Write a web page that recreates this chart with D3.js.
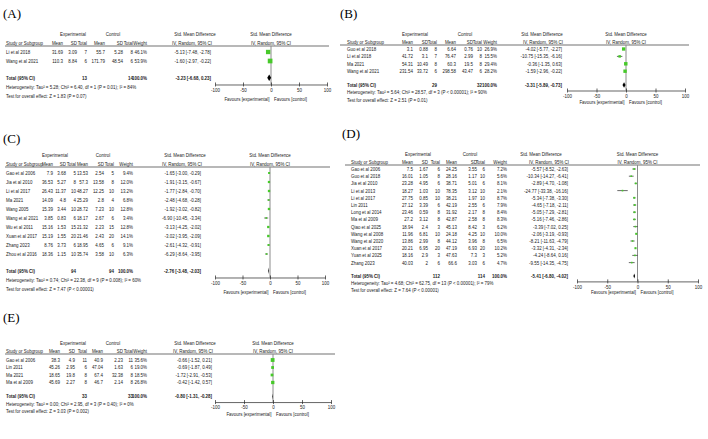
<!DOCTYPE html>
<html><head><meta charset="utf-8">
<script src="https://cdn.jsdelivr.net/npm/d3@7"></script>
<style>
body{margin:0;background:#fff}
svg{display:block}
text{font-family:"Liberation Sans",Arial,sans-serif;font-size:5.3px;fill:#1a1a1a}
text.lab{font-family:"Liberation Serif","Times New Roman",serif;font-size:13px;fill:#000}
text.b{font-weight:bold}
</style></head><body>
<svg id="c" width="708" height="439"></svg>
<script>
// ---------- DATA ----------
const axisTicks = [-100, -50, 0, 50, 100];

// Panel A
const A_study = ["Li et al 2018", "Wang et al 2021"];
const A_expMean = [31.69, 110.3];
const A_expSD = [3.09, 8.84];
const A_expN = [7, 6];
const A_ctlMean = [55.7, 171.79];
const A_ctlSD = [5.28, 48.54];
const A_ctlN = [8, 6];
const A_weight = [46.1, 53.9];
const A_smd = [-5.13, -1.60];
const A_lo = [-7.48, -2.97];
const A_hi = [-2.78, -0.22];
const A_totalN = [13, 14];
const A_totalEffect = [-3.23, -6.68, 0.23];
const A_het = "Heterogeneity: Tau² = 5.28; Chi² = 6.40, df = 1 (P = 0.01); I² = 84%";
const A_test = "Test for overall effect: Z = 1.83 (P = 0.07)";

// Panel B
const B_study = ["Guo et al 2018", "Li et al 2018", "Ma 2021", "Wang et al 2021"];
const B_expMean = [3.1, 41.72, 54.31, 231.54];
const B_expSD = [0.88, 3.1, 10.49, 33.72];
const B_expN = [8, 7, 8, 6];
const B_ctlMean = [6.64, 76.47, 60.3, 298.58];
const B_ctlSD = [0.76, 2.99, 19.5, 43.47];
const B_ctlN = [10, 8, 8, 6];
const B_weight = [26.9, 15.5, 29.4, 28.2];
const B_smd = [-4.02, -10.75, -0.36, -1.59];
const B_lo = [-5.77, -15.35, -1.35, -2.96];
const B_hi = [-2.27, -6.16, 0.63, -0.22];
const B_totalN = [29, 32];
const B_totalEffect = [-3.31, -5.89, -0.73];
const B_het = "Heterogeneity: Tau² = 5.64; Chi² = 28.57, df = 3 (P < 0.00001); I² = 90%";
const B_test = "Test for overall effect: Z = 2.51 (P = 0.01)";

// Panel C
const C_study = ["Gao et al 2006", "Jia et al 2010", "Li et al 2017", "Ma 2021", "Wang 2005", "Wang et al 2021", "Wu et al 2011", "Xuan et al 2017", "Zhang 2023", "Zhou et al 2016"];
const C_expMean = [7.9, 36.53, 26.43, 14.09, 15.39, 3.85, 15.16, 15.19, 8.76, 18.36];
const C_expSD = [3.68, 5.27, 11.37, 4.8, 3.44, 0.83, 1.53, 1.55, 3.73, 1.15];
const C_expN = [5, 8, 10, 4, 10, 6, 15, 20, 6, 10];
const C_ctlMean = [13.53, 57.3, 48.27, 25.29, 28.72, 18.17, 21.32, 21.46, 18.95, 35.74];
const C_ctlSD = [2.54, 13.58, 12.25, 2.8, 7.23, 2.67, 2.23, 2.43, 4.65, 3.58];
const C_ctlN = [5, 8, 10, 4, 10, 6, 15, 20, 6, 10];
const C_weight = [9.4, 12.0, 13.2, 6.8, 12.8, 3.4, 12.8, 14.1, 9.1, 6.3];
const C_smd = [-1.65, -1.91, -1.77, -2.48, -1.92, -6.90, -3.13, -3.02, -2.61, -6.29];
const C_lo = [-3.00, -3.15, -2.84, -4.68, -3.02, -10.45, -4.25, -3.95, -4.32, -8.64];
const C_hi = [-0.29, -0.67, -0.70, -0.28, -0.82, -3.34, -2.02, -2.09, -0.91, -3.95];
const C_totalN = [94, 94];
const C_totalEffect = [-2.76, -3.48, -2.03];
const C_het = "Heterogeneity: Tau² = 0.74; Chi² = 22.38, df = 9 (P = 0.008); I² = 60%";
const C_test = "Test for overall effect: Z = 7.47 (P < 0.00001)";

// Panel D
const D_study = ["Gao et al 2006", "Guo et al 2018", "Jia et al 2010", "Li et al 2013", "Li et al 2017", "Lin 2011", "Long et al 2014", "Ma et al 2009", "Qiao et al 2025", "Wang et al 2008", "Wang et al 2020", "Xuan et al 2017", "Yuan et al 2025", "Zhang 2023"];
const D_expMean = [7.5, 16.01, 23.28, 18.27, 27.75, 27.12, 23.46, 27.2, 18.94, 11.96, 13.86, 20.21, 18.16, 40.03];
const D_expSD = [1.67, 1.05, 4.95, 1.03, 0.85, 3.39, 0.59, 3.12, 2.4, 6.81, 2.99, 6.95, 2.9, 2];
const D_expN = [6, 8, 6, 10, 10, 6, 8, 8, 3, 10, 8, 20, 3, 6];
const D_ctlMean = [24.25, 28.16, 38.71, 78.35, 38.21, 42.19, 31.92, 42.87, 45.13, 24.18, 44.12, 47.19, 47.63, 66.6];
const D_ctlSD = [3.55, 1.17, 5.01, 3.12, 1.97, 2.55, 2.17, 2.58, 8.42, 4.25, 3.96, 6.93, 7.3, 3.03];
const D_ctlN = [6, 10, 6, 10, 10, 6, 8, 8, 3, 10, 8, 20, 3, 6];
const D_weight = [7.2, 5.6, 8.1, 2.1, 8.7, 7.9, 8.4, 8.3, 6.2, 10.0, 6.5, 10.2, 5.2, 4.7];
const D_smd = [-5.57, -10.34, -2.89, -24.77, -5.34, -4.65, -5.05, -5.16, -3.39, -2.06, -8.21, -3.32, -4.24, -9.55];
const D_lo = [-8.52, -14.27, -4.70, -33.38, -7.38, -7.18, -7.29, -7.46, -7.02, -3.19, -11.63, -4.31, -8.64, -14.35];
const D_hi = [-2.63, -6.41, -1.08, -16.16, -3.30, -2.11, -2.81, -2.86, 0.25, -0.93, -4.79, -2.34, 0.16, -4.75];
const D_totalN = [112, 114];
const D_totalEffect = [-5.41, -6.80, -4.02];
const D_het = "Heterogeneity: Tau² = 4.68; Chi² = 62.75, df = 13 (P < 0.00001); I² = 79%";
const D_test = "Test for overall effect: Z = 7.64 (P < 0.00001)";

// Panel E
const E_study = ["Gao et al 2006", "Lin 2011", "Ma 2021", "Ma et al 2009"];
const E_expMean = [38.3, 45.26, 18.65, 45.69];
const E_expSD = [4.9, 2.95, 19.8, 2.27];
const E_expN = [11, 6, 8, 8];
const E_ctlMean = [40.9, 47.04, 67.4, 46.7];
const E_ctlSD = [2.23, 1.63, 32.38, 2.14];
const E_ctlN = [11, 6, 8, 8];
const E_weight = [35.6, 19.0, 18.5, 26.8];
const E_smd = [-0.66, -0.69, -1.72, -0.42];
const E_lo = [-1.52, -1.87, -2.91, -1.42];
const E_hi = [0.21, 0.49, -0.53, 0.57];
const E_totalN = [33, 33];
const E_totalEffect = [-0.80, -1.31, -0.28];
const E_het = "Heterogeneity: Tau² = 0.00; Chi² = 2.95, df = 3 (P = 0.40); I² = 0%";
const E_test = "Test for overall effect: Z = 3.03 (P = 0.002)";

// ---------- LAYOUT ----------
const SX = 0.84; // horizontal condensing of the small table font
const LAY = {
  A: {label:[3,18], lx:[5,329], line:46, first:52, step:9, studyX:6,
      cols:[63,77,87,105,123,133,147,211], grp:[73,113,195], plot:[215,327]},
  B: {label:[340,18], lx:[340,689], line:45, first:49, step:7.4, studyX:347,
      cols:[413,428,437,456,473,482,497,562], grp:[415,465,542], plot:[567,685]},
  C: {label:[3,143], lx:[5,330], line:167, first:173, step:9, studyX:6,
      cols:[53,66,76,88,104,114,133,201], grp:[55,103,185], plot:[215,325]},
  D: {label:[342,138], lx:[345,700], line:165, first:169, step:7.2, studyX:351,
      cols:[413,428,440,457,477,485,507,568], grp:[418,470,541], plot:[577,698]},
  E: {label:[3,322], lx:[5,335], line:354, first:360, step:7.5, studyX:6,
      cols:[60,75,87,103,123,133,147,212], grp:[73,113,195], plot:[215,331]}
};

const svg = d3.select("#c");
const sizeScale = d3.scaleSqrt().domain([0, 100]).range([0, 6.4]);
const f2 = v => v.toFixed(2);
const ciTxt = (s, l, h) => `${f2(s)} [${f2(l)}, ${f2(h)}]`;

function drawPanel(name, L, d) {
  const g = svg.append("g");
  const n = d.study.length;
  const x = d3.scaleLinear().domain([-100, 100]).range(L.plot);
  const x0 = x(0);
  const rowY = i => L.first + i * L.step;
  const totY = rowY(n - 1) + 1.86 * L.step;
  const hetY = totY + L.step, testY = totY + 2 * L.step;
  const axY = totY + 0.75 * L.step;
  const bl = 1.9;
  const h1 = L.line - 1.5 - L.step, h2 = L.line - 1.5;
  const T = (xx, yy, s, anchor, cls) => g.append("text")
      .attr("transform", `translate(${xx},${yy}) scale(${SX},1)`)
      .attr("text-anchor", anchor || "start").attr("class", cls || null).text(s);

  g.append("text").attr("class", "lab").attr("x", L.label[0]).attr("y", L.label[1]).text(name);

  // group headers
  T(L.grp[0], h1, "Experimental", "middle");
  T(L.grp[1], h1, "Control", "middle");
  T(L.grp[2], h1, "Std. Mean Difference", "middle");
  T(x0, h1, "Std. Mean Difference", "middle");
  // column headers
  T(L.studyX, h2, "Study or Subgroup");
  const heads = ["Mean", "SD", "Total", "Mean", "SD", "Total", "Weight", "IV, Random, 95% CI"];
  heads.forEach((h, k) => T(L.cols[k] + (k === 7 ? 1 : 0), h2, h, "end"));
  T(x0, h2, "IV, Random, 95% CI", "middle");
  g.append("line").attr("x1", L.lx[0]).attr("x2", L.lx[1]).attr("y1", L.line).attr("y2", L.line)
    .attr("stroke", "#333").attr("stroke-width", 0.7);

  // study rows
  d.study.forEach((s, i) => {
    const y = rowY(i) + bl;
    T(L.studyX, y, s);
    const vals = [String(d.expMean[i]), String(d.expSD[i]), String(d.expN[i]),
                  String(d.ctlMean[i]), String(d.ctlSD[i]), String(d.ctlN[i]),
                  d.weight[i].toFixed(1) + "%", ciTxt(d.smd[i], d.lo[i], d.hi[i])];
    vals.forEach((v, k) => T(L.cols[k], y, v, "end"));
  });
  // total row
  const ty = totY + bl;
  T(L.studyX, ty, "Total (95% CI)", "start", "b");
  T(L.cols[2], ty, String(d.totalN[0]), "end", "b");
  T(L.cols[5], ty, String(d.totalN[1]), "end", "b");
  T(L.cols[6], ty, "100.0%", "end", "b");
  T(L.cols[7], ty, ciTxt(d.totalEffect[0], d.totalEffect[1], d.totalEffect[2]), "end", "b");
  T(L.studyX, hetY + bl, d.het);
  T(L.studyX, testY + bl, d.test);

  // plot
  g.append("line").attr("x1", x0).attr("x2", x0).attr("y1", L.line).attr("y2", axY)
    .attr("stroke", "#8c8c8c").attr("stroke-width", 1);
  d.study.forEach((s, i) => {
    const y = rowY(i);
    g.append("line").attr("x1", x(d.lo[i])).attr("x2", x(d.hi[i])).attr("y1", y).attr("y2", y)
      .attr("stroke", "#2a2a2a").attr("stroke-width", 0.7);
    const sz = Math.max(1.6, sizeScale(d.weight[i]));
    g.append("rect").attr("x", x(d.smd[i]) - sz / 2).attr("y", y - sz / 2)
      .attr("width", sz).attr("height", sz).attr("fill", "#47c92a");
  });
  const dh = 0.36 * L.step;
  const te = d.totalEffect;
  g.append("path").attr("d", `M${x(te[1])},${totY}L${x(te[0])},${totY - dh}L${x(te[2])},${totY}L${x(te[0])},${totY + dh}Z`)
    .attr("fill", "#000");

  // axis
  const ax = d3.axisBottom(x).tickValues(axisTicks).tickFormat(v => String(v))
    .tickSizeInner(2).tickSizeOuter(0).tickPadding(1.5);
  const ag = g.append("g").attr("transform", `translate(0,${axY})`).call(ax);
  ag.attr("font-size", null).attr("font-family", null);
  ag.select(".domain").attr("stroke", "#222").attr("stroke-width", 0.7);
  ag.selectAll(".tick line").attr("y1", -2).attr("y2", 2).attr("stroke", "#222").attr("stroke-width", 0.7);
  ag.selectAll(".tick text").attr("fill", "#1a1a1a").attr("transform", `scale(${SX},1)`);
  T(x0 - 1.5, axY + 1.8 * L.step, "Favours [experimental]", "end");
  T(x0 + 3, axY + 1.8 * L.step, "Favours [control]", "start");
}

const P = (pre) => ({
  study: eval(pre + "_study"), expMean: eval(pre + "_expMean"), expSD: eval(pre + "_expSD"),
  expN: eval(pre + "_expN"), ctlMean: eval(pre + "_ctlMean"), ctlSD: eval(pre + "_ctlSD"),
  ctlN: eval(pre + "_ctlN"), weight: eval(pre + "_weight"), smd: eval(pre + "_smd"),
  lo: eval(pre + "_lo"), hi: eval(pre + "_hi"), totalN: eval(pre + "_totalN"),
  totalEffect: eval(pre + "_totalEffect"), het: eval(pre + "_het"), test: eval(pre + "_test")
});

drawPanel("(A)", LAY.A, P("A"));
drawPanel("(B)", LAY.B, P("B"));
drawPanel("(C)", LAY.C, P("C"));
drawPanel("(D)", LAY.D, P("D"));
drawPanel("(E)", LAY.E, P("E"));
</script>
</body></html>
